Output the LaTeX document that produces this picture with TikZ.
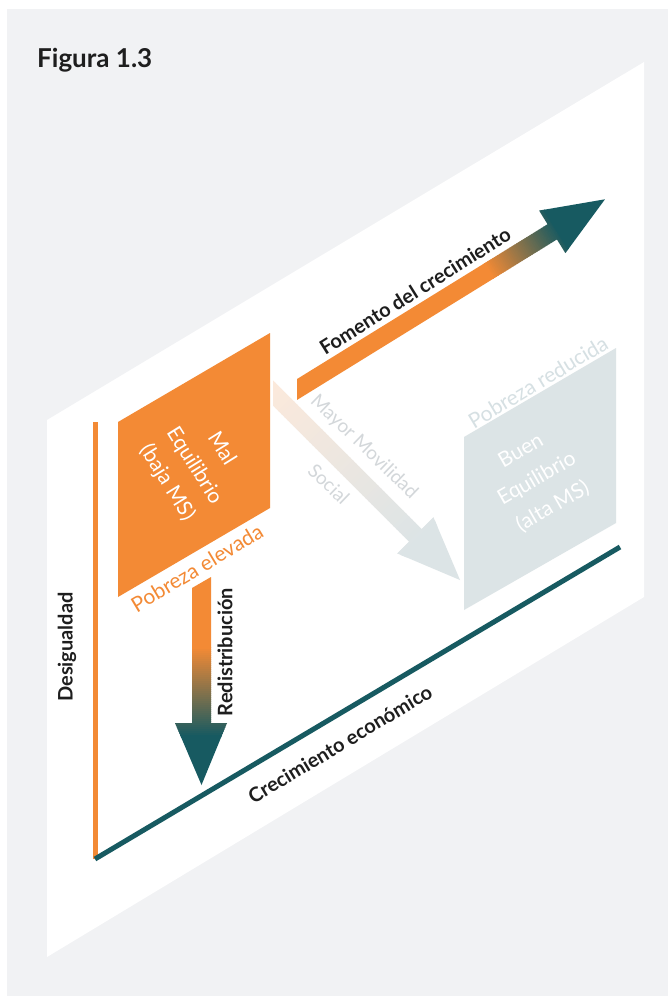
\documentclass[tikz,border=0pt]{standalone}
\usepackage{fontspec}
\setmainfont{Lato}
\definecolor{bgC}{HTML}{F1F2F4}
\definecolor{orangeC}{HTML}{F38A35}
\definecolor{tealC}{HTML}{175A61}
\definecolor{peachC}{HTML}{FCE9DB}
\definecolor{grayblueC}{HTML}{DCE4E6}
\definecolor{lightlblC}{HTML}{D3D7DA}
\definecolor{redlblC}{HTML}{D6E0E3}
\definecolor{inkC}{HTML}{1E1E1E}
\begin{document}
\begin{tikzpicture}[x=1pt,y=-1pt,
  boldlbl/.style={font=\fontsize{20}{24}\selectfont\bfseries, text=inkC, inner sep=0pt},
  reglbl/.style={font=\fontsize{21}{25}\selectfont, inner sep=0pt},
  eqlbl/.style={font=\fontsize{21}{32}\selectfont, text=white, align=center, inner sep=0pt},
  axisline/.style={line width=5pt, line cap=butt}]
\useasboundingbox (0,0) rectangle (668,996);
% background
\fill[white] (0,0) rectangle (668,996);
\fill[bgC] (7,9) rectangle (668,996);
\fill[white] (47,420) -- (644,62) -- (644,597) -- (47,957) -- cycle;
\node[anchor=base west, font=\fontsize{26}{30}\selectfont\bfseries, text=inkC, inner sep=0pt] (fig) at (37,67) {Figura 1.3};
% axes
\coordinate (origin) at (95,859);
\coordinate (ytop) at (95,422);
\coordinate (xend) at (620,547);
\draw[axisline, orangeC] (origin) -- (ytop);
\draw[axisline, tealC] (origin) -- (xend);
\node[boldlbl, rotate=90] (desig) at (67,647) {Desigualdad};
\node[boldlbl, rotate=31] (crec) at (340,744) {Crecimiento económico};
% squares
\fill[orangeC] (118,422) -- (270,333) -- (270,508) -- (118,597) -- cycle;
\node[eqlbl, rotate=-58] (mal) at (194,466) {Mal\\Equilibrio\\(baja MS)};
\node[reglbl, rotate=31, text=orangeC] (pobel) at (197,568) {Pobreza elevada};
\fill[grayblueC] (464,437) -- (616,348) -- (616,523) -- (464,610) -- cycle;
\node[eqlbl, rotate=30] (buen) at (537,479) {Buen\\Equilibrio\\(alta MS)};
\node[reglbl, rotate=31, text=redlblC] (pobred) at (538,382) {Pobreza reducida};
% Fomento arrow
\begin{scope}[shift={(297,389.5)}, rotate=31.7]
  \coordinate (fomtail) at (0,0);
  \coordinate (fomtip) at (362,0);
  \begin{scope}
    \clip (5.5,-8.9) -- (300,-8.9) -- (300,-25) -- (fomtip) -- (300,25) -- (300,8.9) -- (-5.5,8.9) -- cycle;
    \fill[orangeC] (-10,-30) -- (226,-30) -- (226,30) -- (-10,30) -- cycle;
    \foreach \i in {0,...,39} {
      \pgfmathsetmacro\p{100-2.5*\i}
      \pgfmathsetmacro\sa{225+2*\i}
      \pgfmathsetmacro\sb{225+2*\i+2.6}
      \fill[orangeC!\p!tealC] (\sa,-30) -- (\sb,-30) -- (\sb,30) -- (\sa,30) -- cycle;
    }
    \fill[tealC] (304,-30) -- (370,-30) -- (370,30) -- (304,30) -- cycle;
  \end{scope}
\end{scope}
\node[boldlbl, rotate=32] (fomento) at (415,291) {Fomento del crecimiento};
% Redistribucion arrow
\coordinate (redtop) at (201.5,582);
\coordinate (redtip) at (201.5,785);
\begin{scope}
  \clip (192,588) -- (211,577) -- (211,723) -- (227,723) -- (redtip) -- (175,723) -- (192,723) -- cycle;
  \fill[orangeC] (170,570) rectangle (230,648);
  \foreach \i in {0,...,44} {
    \pgfmathsetmacro\p{100-100*\i/44}
    \pgfmathsetmacro\ya{647+2*\i}
    \pgfmathsetmacro\yb{647+2*\i+2.6}
    \fill[orangeC!\p!tealC] (170,\ya) rectangle (230,\yb);
  }
  \fill[tealC] (170,736) rectangle (230,790);
\end{scope}
\node[boldlbl, rotate=90] (redis) at (225,652) {Redistribución};
% Mayor Movilidad arrow
\begin{scope}[shift={(273,393)}, rotate=-45]
  \coordinate (movtail) at (0,0);
  \coordinate (movtip) at (264.5,0);
  \begin{scope}
    \clip (-9,-9) -- (201.5,-9) -- (201.5,-25.5) -- (movtip) -- (201.5,25.5) -- (201.5,9) -- (9,9) -- cycle;
    \foreach \i in {0,...,49} {
      \pgfmathsetmacro\p{100-100*\i/49}
      \pgfmathsetmacro\sa{-10+4.4*\i}
      \pgfmathsetmacro\sb{-10+4.4*\i+5}
      \fill[peachC!\p!grayblueC] (\sa,-30) -- (\sb,-30) -- (\sb,30) -- (\sa,30) -- cycle;
    }
    \fill[grayblueC] (205,-30) -- (270,-30) -- (270,30) -- (205,30) -- cycle;
  \end{scope}
\end{scope}
\node[reglbl, font=\fontsize{19}{23}\selectfont, rotate=-44, text=lightlblC] (mayor) at (364,447) {Mayor Movilidad};
\node[reglbl, font=\fontsize{19}{23}\selectfont, rotate=-44, text=lightlblC] (social) at (329,484) {Social};
\end{tikzpicture}
\end{document}
